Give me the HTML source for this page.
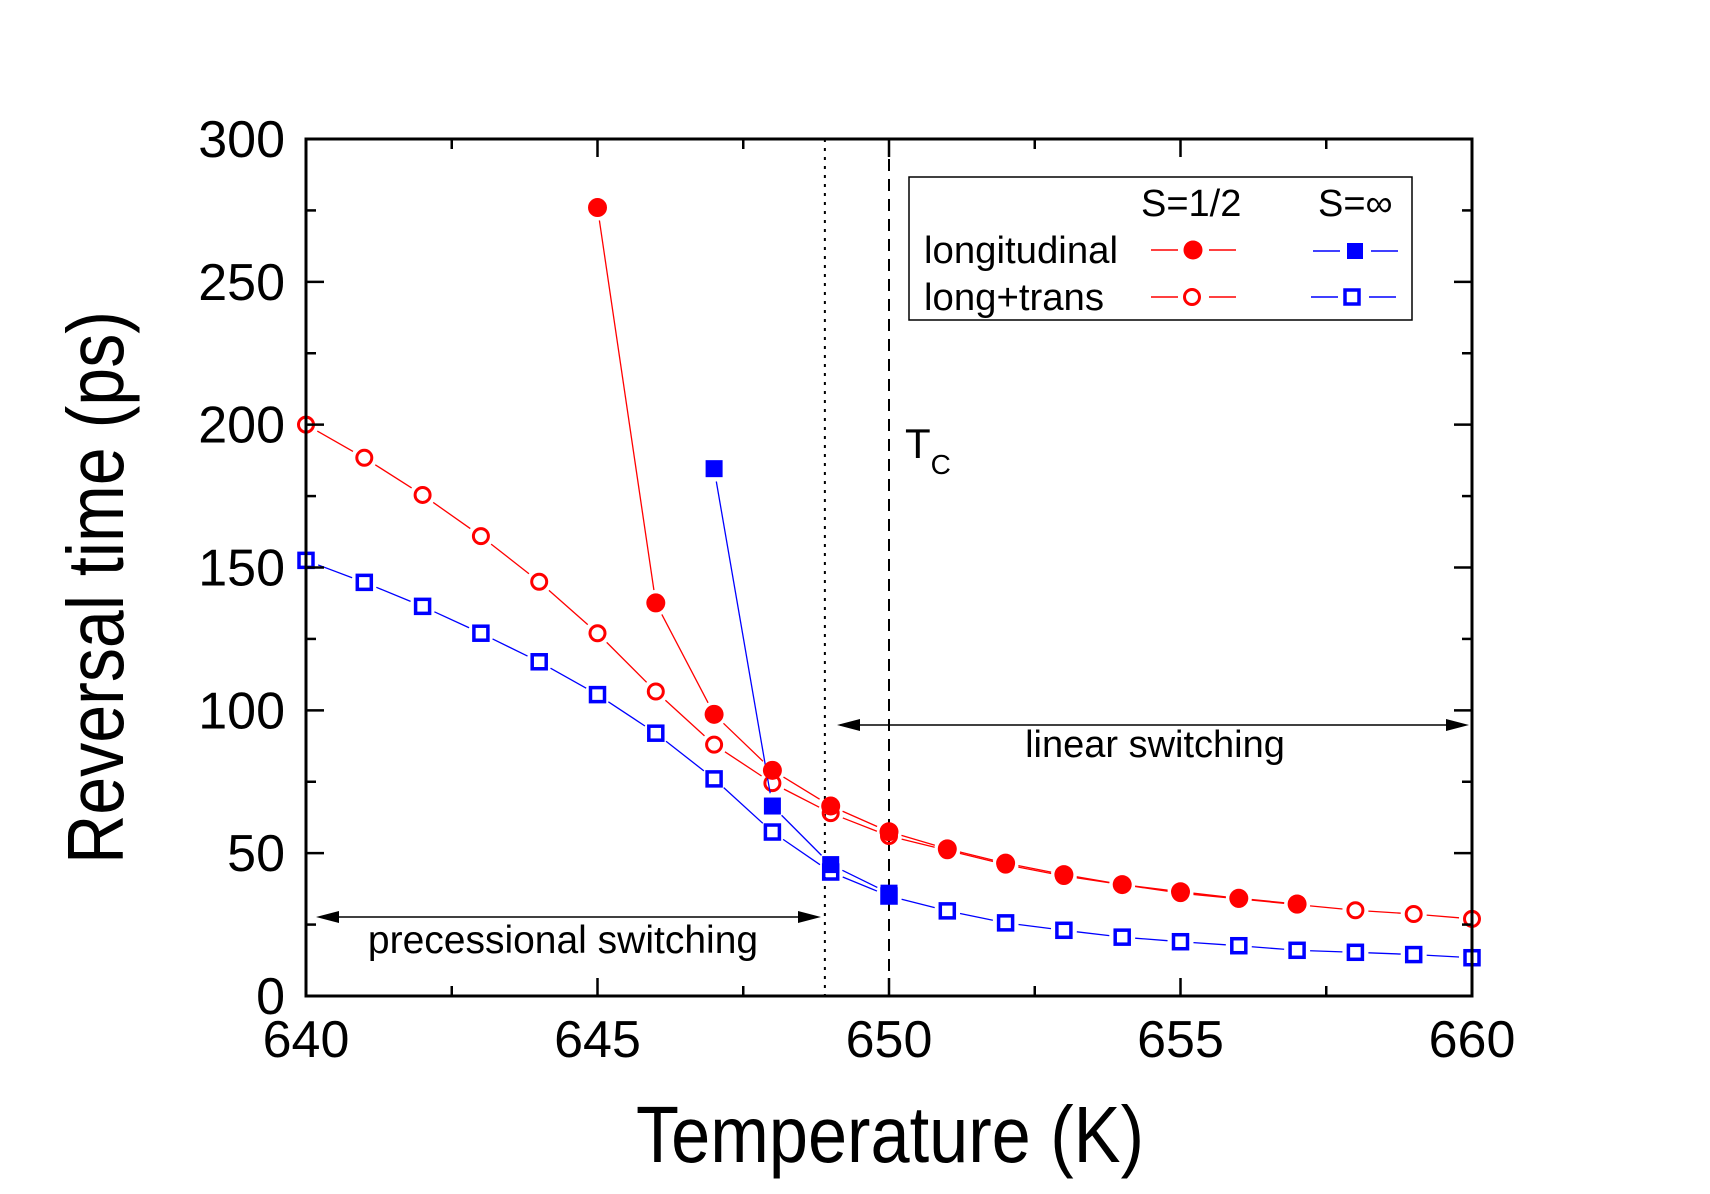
<!DOCTYPE html>
<html><head><meta charset="utf-8"><style>
html,body{margin:0;padding:0;background:#fff;}
svg{display:block;font-family:"Liberation Sans",Arial,sans-serif;}
</style></head><body>
<svg id="chart" width="1710" height="1194" viewBox="0 0 1710 1194" xmlns="http://www.w3.org/2000/svg">
<rect x="0" y="0" width="1710" height="1194" fill="#fff"/>
<g id="marks"></g>
<rect x="306" y="139" width="1166" height="857" fill="none" stroke="#000" stroke-width="3"/>
<g id="axes"></g>
<text x="636" y="1162" font-size="80" textLength="508" lengthAdjust="spacingAndGlyphs">Temperature (K)</text>
<text transform="translate(123,864) rotate(-90)" font-size="80" textLength="553" lengthAdjust="spacingAndGlyphs">Reversal time (ps)</text>
<g>
<rect x="909" y="177" width="503" height="143" fill="#fff" stroke="#000" stroke-width="1.5"/>
<text x="1141" y="216" font-size="38">S=1/2</text>
<text x="1318" y="216" font-size="38">S=∞</text>
<text x="924" y="263" font-size="38" textLength="194" lengthAdjust="spacingAndGlyphs">longitudinal</text>
<text x="924" y="310" font-size="38" textLength="180" lengthAdjust="spacingAndGlyphs">long+trans</text>
<g><line x1="1151" y1="250" x2="1178" y2="250" stroke="red" stroke-width="1.5"/><line x1="1209" y1="250" x2="1236" y2="250" stroke="red" stroke-width="1.5"/><circle cx="1193" cy="250" r="9.5" fill="red"/></g>
<g><line x1="1151" y1="297" x2="1178" y2="297" stroke="red" stroke-width="1.5"/><line x1="1209" y1="297" x2="1236" y2="297" stroke="red" stroke-width="1.5"/><circle cx="1192" cy="297" r="7.5" fill="#fff" stroke="red" stroke-width="3"/></g>
<g><line x1="1313" y1="251" x2="1340" y2="251" stroke="blue" stroke-width="1.5"/><line x1="1371" y1="251" x2="1398" y2="251" stroke="blue" stroke-width="1.5"/><rect x="1347" y="243" width="16" height="16" fill="blue"/></g>
<g><line x1="1311" y1="297" x2="1338" y2="297" stroke="blue" stroke-width="1.5"/><line x1="1369" y1="297" x2="1396" y2="297" stroke="blue" stroke-width="1.5"/><rect x="1345" y="290" width="14" height="14" fill="#fff" stroke="blue" stroke-width="3.5"/></g>
</g>
<text x="905" y="458" font-size="42">T<tspan font-size="28" dy="16">C</tspan></text>
<g>
<line x1="840" y1="725" x2="1450" y2="725" stroke="#000" stroke-width="1.5"/>
<polygon points="837,725 860,719 860,731" fill="#000"/><polygon points="1469,725 1446,719 1446,731" fill="#000"/>
</g>
<text x="1155" y="757" font-size="38" text-anchor="middle">linear switching</text>
<g>
<line x1="330" y1="917" x2="805" y2="917" stroke="#000" stroke-width="1.5"/>
<polygon points="316,917 339,911 339,923" fill="#000"/><polygon points="821,917 798,911 798,923" fill="#000"/>
</g>
<text x="563" y="953" font-size="39" text-anchor="middle">precessional switching</text>
</svg>
<script>
const tempsLT = [640,641,642,643,644,645,646,647,648,649,650,651,652,653,654,655,656,657,658,659,660];
const ltHalf = [200,188.4,175.4,161,145,127,106.6,88,74.5,64,56,51,46,42,39,36,34,32,30,28.7,27];
const ltInf = [152.5,144.8,136.4,127,117,105.5,92,76,57.4,43.4,35,29.8,25.6,23,20.6,19,17.6,16,15.3,14.5,13.4];
const tempsLongHalf = [645,646,647,648,649,650,651,652,653,654,655,656,657];
const longHalf = [276,137.6,98.6,79,66.5,57.5,51.5,46.5,42.5,39,36.5,34.2,32.2];
const tempsLongInf = [647,648,649,650];
const longInf = [184.6,66.5,46,36];
const xTicks = [640,645,650,655,660];
const yTicks = [0,50,100,150,200,250,300];
const dottedT = 648.9;
const tcT = 650;

const X0=306,X1=1472,Y0=996,Y1=139;
const xs = t => X0 + (t-640)/(660-640)*(X1-X0);
const ys = v => Y0 - v/300*(Y0-Y1);
const NS="http://www.w3.org/2000/svg";
const marks=document.getElementById('marks'), axes=document.getElementById('axes');
function mk(tag,attrs,parent){const e=document.createElementNS(NS,tag);for(const k in attrs)e.setAttribute(k,attrs[k]);parent.appendChild(e);return e;}

for(let t=640;t<=660;t+=2.5){const major=(t%5===0);const L=major?18:10;const x=xs(t);
 const a=mk('line',{x1:x,y1:Y0,x2:x,y2:Y0-L,stroke:'#000','stroke-width':2.5},axes);
 
 
 const b=mk('line',{x1:x,y1:Y1,x2:x,y2:Y1+L,stroke:'#000','stroke-width':2.5},axes);
 
 }
for(let v=0;v<=300;v+=25){const major=(v%50===0);const L=major?18:10;const y=ys(v);
 const a=mk('line',{x1:X0,y1:y,x2:X0+L,y2:y,stroke:'#000','stroke-width':2.5},axes);
 
 
 const b=mk('line',{x1:X1,y1:y,x2:X1-L,y2:y,stroke:'#000','stroke-width':2.5},axes);
 
 }
xTicks.forEach(t=>{const e=mk('text',{x:xs(t),y:1057,'font-size':52,'text-anchor':'middle'},axes);e.textContent=t;
 
 });
yTicks.forEach(v=>{const e=mk('text',{x:285,y:ys(v)+18,'font-size':52,'text-anchor':'end'},axes);e.textContent=v;
 
 });

const dl=mk('line',{x1:xs(dottedT),y1:Y1,x2:xs(dottedT),y2:Y0,stroke:'#000','stroke-width':2,'stroke-dasharray':'3,6'},marks);


const tl=mk('line',{x1:xs(tcT),y1:Y1,x2:xs(tcT),y2:Y0,stroke:'#000','stroke-width':2,'stroke-dasharray':'12,8'},marks);



function series(ts,vals,color,kind,name){
 const g=mk('g',{},marks);
 
 
 for(let i=0;i<ts.length-1;i++){const xa=xs(ts[i]),ya=ys(vals[i]),xb=xs(ts[i+1]),yb=ys(vals[i+1]);
  const dx=xb-xa,dy=yb-ya,d=Math.hypot(dx,dy),g0=13;if(d<=2*g0)continue;
  const s=mk('line',{x1:xa+dx/d*g0,y1:ya+dy/d*g0,x2:xb-dx/d*g0,y2:yb-dy/d*g0,stroke:color,'stroke-width':1.3},g);
  
  }
 ts.forEach((t,i)=>{const x=xs(t),y=ys(vals[i]);let m;
  if(kind==='fc')m=mk('circle',{cx:x,cy:y,r:9.5,fill:color},g);
  else if(kind==='oc')m=mk('circle',{cx:x,cy:y,r:7.5,fill:'none',stroke:color,'stroke-width':3},g);
  else if(kind==='fs')m=mk('rect',{x:x-8.5,y:y-8.5,width:17,height:17,fill:color},g);
  else m=mk('rect',{x:x-7,y:y-7,width:14,height:14,fill:'none',stroke:color,'stroke-width':3.5},g);
  
  });
}
series(tempsLT,ltInf,'blue','os','series-long-trans-s-inf');
series(tempsLT,ltHalf,'red','oc','series-long-trans-s-half');
series(tempsLongInf,longInf,'blue','fs','series-longitudinal-s-inf');
series(tempsLongHalf,longHalf,'red','fc','series-longitudinal-s-half');
</script>
</body></html>
